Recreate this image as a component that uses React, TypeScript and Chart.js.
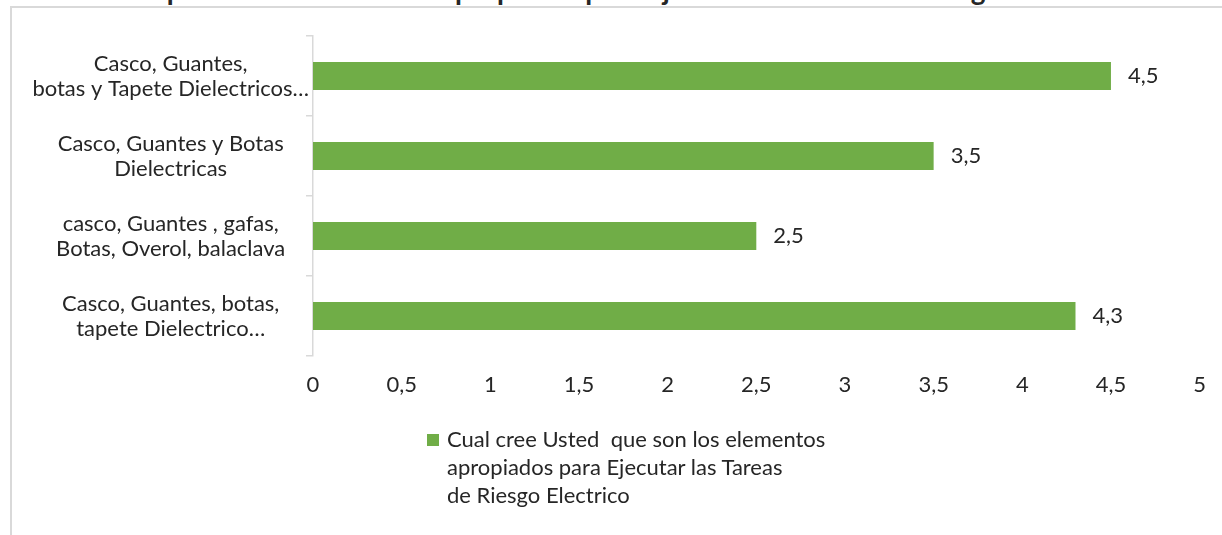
import React, { useEffect, useRef } from "react";
import { Chart, registerables } from "chart.js";

Chart.register(...registerables);

const categories: string[][] = [
  ["Casco, Guantes,", "botas y Tapete Dielectricos…"],
  ["Casco, Guantes y Botas", "Dielectricas"],
  ["casco, Guantes , gafas,", "Botas, Overol, balaclava"],
  ["Casco, Guantes, botas,", "tapete Dielectrico…"],
];
const values: number[] = [4.5, 3.5, 2.5, 4.3];
const seriesName =
  "Cual cree Usted  que son los elementos apropiados para Ejecutar las Tareas de Riesgo Electrico";
const legendLines: string[] = [
  "Cual cree Usted  que son los elementos",
  "apropiados para Ejecutar las Tareas",
  "de Riesgo Electrico",
];
const titleText =
  "Cual cree Usted que son los elementos apropiados para Ejecutar las Tareas de Riesgo Electrico";
const xMin = 0;
const xMax = 5;
const xStep = 0.5;

const BAR_COLOR = "#70ad47";
const TEXT_COLOR = "#262626";
const FONT = "Lato, Carlito, Calibri, sans-serif";
const FONT_SIZE = 22;

const fmt = (v: number) => String(v).replace(".", ",");

const valueLabels = {
  id: "valueLabels",
  afterDatasetsDraw(chart: any) {
    const ctx = chart.ctx;
    const meta = chart.getDatasetMeta(0);
    ctx.save();
    ctx.font = `${FONT_SIZE}px ${FONT}`;
    ctx.fillStyle = TEXT_COLOR;
    ctx.textAlign = "left";
    ctx.textBaseline = "middle";
    meta.data.forEach((bar: any, i: number) => {
      ctx.fillText(fmt(values[i]), bar.x + 17, bar.y);
    });
    ctx.restore();
  },
};

export default function App() {
  const canvasRef = useRef<HTMLCanvasElement | null>(null);

  useEffect(() => {
    if (!canvasRef.current) return;
    const chart = new Chart(canvasRef.current, {
      type: "bar",
      data: {
        labels: categories,
        datasets: [
          {
            label: seriesName,
            data: values,
            backgroundColor: BAR_COLOR,
            borderWidth: 0,
            categoryPercentage: 1,
            barPercentage: 0.35,
          },
        ],
      },
      options: {
        indexAxis: "y",
        animation: false,
        responsive: false,
        maintainAspectRatio: false,
        layout: { padding: { left: 0, top: 36, right: 21, bottom: 0 } },
        plugins: {
          legend: { display: false },
          tooltip: { enabled: false },
          title: { display: false },
        },
        scales: {
          x: {
            type: "linear",
            min: xMin,
            max: xMax,
            grid: { display: false, drawTicks: false },
            border: { display: false },
            ticks: {
              stepSize: xStep,
              padding: 16,
              color: TEXT_COLOR,
              font: { family: FONT, size: FONT_SIZE },
              callback: (v: any) => fmt(Number(v)),
            },
            afterFit: (scale: any) => {
              scale.height = 179;
            },
          },
          y: {
            type: "category",
            offset: true,
            grid: {
              display: true,
              offset: true,
              drawOnChartArea: false,
              drawTicks: true,
              tickLength: 7,
              color: "#d9d9d9",
              lineWidth: 1.5,
            },
            border: { display: true, color: "#d9d9d9", width: 1.5 },
            ticks: {
              crossAlign: "center",
              padding: -3,
              color: TEXT_COLOR,
              font: { family: FONT, size: FONT_SIZE, lineHeight: "25px" },
            },
            afterFit: (scale: any) => {
              scale.width = 313;
            },
          },
        },
      },
      plugins: [valueLabels],
    } as any);
    return () => chart.destroy();
  }, []);

  return (
    <div
      style={{
        position: "fixed",
        left: 0,
        top: 0,
        width: 1222,
        height: 535,
        background: "#ffffff",
        overflow: "hidden",
        fontFamily: FONT,
        color: TEXT_COLOR,
      }}
    >
      <div
        style={{
          position: "absolute",
          left: 0,
          top: 0,
          width: 1222,
          height: 6,
          overflow: "hidden",
        }}
      >
        <div
          style={{
            position: "absolute",
            left: -45,
            top: -28,
            whiteSpace: "nowrap",
            fontWeight: 700,
            fontSize: 28,
            lineHeight: "34px",
          }}
        >
          {titleText}
        </div>
      </div>
      <div
        style={{
          position: "absolute",
          left: 10,
          top: 6,
          width: 1212,
          height: 529,
          boxSizing: "border-box",
          borderLeft: "2px solid #d9d9d9",
          borderTop: "2px solid #d9d9d9",
        }}
      />
      <canvas
        ref={canvasRef}
        width={1222}
        height={535}
        style={{ position: "absolute", left: 0, top: 0, width: 1222, height: 535 }}
      />
      <div
        style={{
          position: "absolute",
          left: 427,
          top: 434,
          width: 12,
          height: 12,
          background: BAR_COLOR,
        }}
      />
      <div
        style={{
          position: "absolute",
          left: 447,
          top: 425,
          fontSize: 22,
          lineHeight: "28px",
          whiteSpace: "nowrap",
        }}
      >
        {legendLines.map((l, i) => (
          <div key={i} style={{ whiteSpace: "pre" }}>
            {l}
          </div>
        ))}
      </div>
    </div>
  );
}
